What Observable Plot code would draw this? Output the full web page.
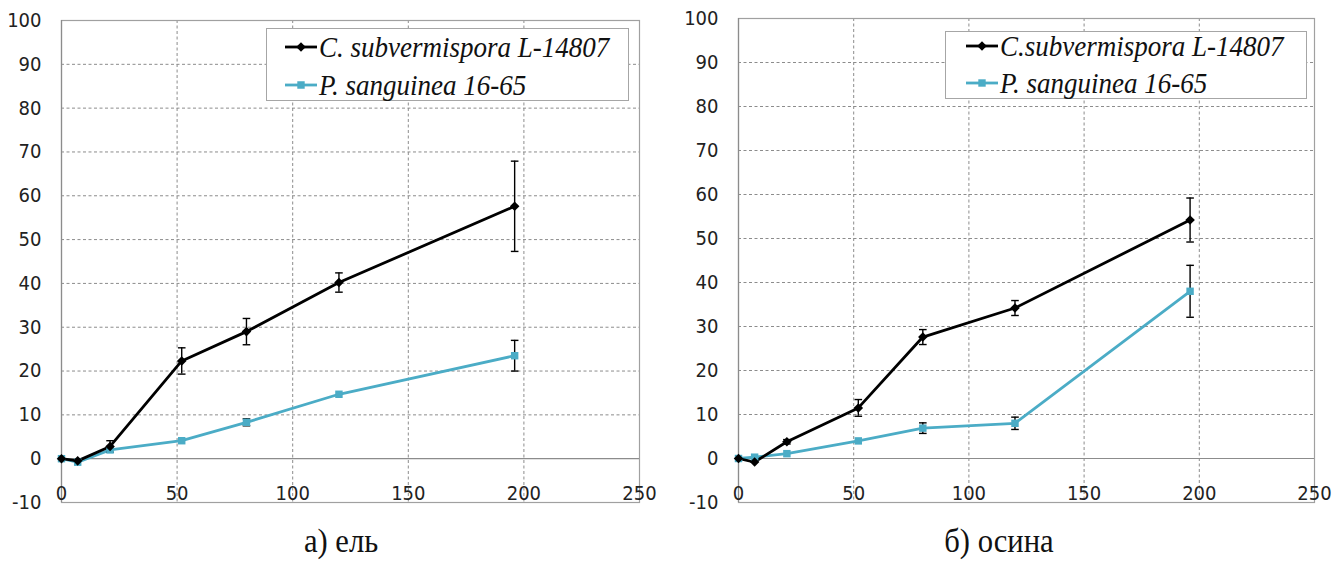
<!DOCTYPE html>
<html><head><meta charset="utf-8">
<script src="https://cdn.jsdelivr.net/npm/d3@7"></script>
<script src="https://cdn.jsdelivr.net/npm/@observablehq/plot@0.6"></script>
<style>
body{margin:0;background:#fff;}
#wrap{position:relative;width:1344px;height:567px;overflow:hidden;background:#fff;}
.panel{position:absolute;top:0;}
.legend{position:absolute;background:#fff;border:1.5px solid #a6a6a6;box-sizing:border-box;}
.row{position:absolute;left:0;display:flex;align-items:center;height:36px;}
.row svg{flex:none;}
.row span{font-style:italic;font-size:30px;color:#111;white-space:nowrap;display:inline-block;transform:scaleX(0.9);transform-origin:left center;}
.cap{position:absolute;top:522px;font-size:34px;color:#111;white-space:nowrap;transform:translateX(-50%) scaleX(0.9);}
</style></head>
<body><div id="wrap"></div>
<script>
const days = [0, 7, 21, 52, 80, 120, 196];
const spruceC = [0, -0.5, 2.8, 22.3, 29.0, 40.2, 57.6];
const spruceCErr = [0, 0, 1.3, 3.0, 3.0, 2.2, 10.3];
const spruceP = [0, -0.8, 2.0, 4.1, 8.3, 14.7, 23.5];
const sprucePErr = [0, 0, 0, 0, 0.8, 0, 3.5];
const aspenC = [0, -0.8, 3.8, 11.5, 27.6, 34.2, 54.2];
const aspenCErr = [0, 0, 0.5, 1.9, 1.7, 1.7, 5.0];
const aspenP = [0, 0.3, 1.1, 4.0, 6.9, 8.0, 38.0];
const aspenPErr = [0, 0, 0, 0, 1.2, 1.4, 5.9];
const xTicks = [0, 50, 100, 150, 200, 250];
const yTicks = [-10, 0, 10, 20, 30, 40, 50, 60, 70, 80, 90, 100];
const seriesNames = ["C. subvermispora L-14807", "P. sanguinea 16-65"];
const seriesNamesB = ["C.subvermispora L-14807", "P. sanguinea 16-65"];
const panelCaptions = ["а) ель", "б) осина"];
const colors = ["#000000", "#4bacc6"];

// pick an installed serif face
function hasFont(name){
  const cv=document.createElement("canvas").getContext("2d");
  const s="абвгдеж Ctfjilmw 0123456789";
  return ["monospace","sans-serif","serif"].some(g=>{
    cv.font="40px "+g; const w0=cv.measureText(s).width;
    cv.font="40px '"+name+"', "+g; return Math.abs(cv.measureText(s).width-w0)>0.5;
  });
}
const serifCandidates=["Liberation Serif","Times New Roman","Tinos","DejaVu Serif","Noto Serif","FreeSerif","Nimbus Roman","Nimbus Roman No9 L","Times"];
const serifFace = serifCandidates.find(hasFont);
const serifStack = (serifFace?"'"+serifFace+"', ":"")+"serif";

const capSymbol = {draw(ctx, size){ const r = Math.sqrt(size/Math.PI); ctx.moveTo(-r,0); ctx.lineTo(r,0); }};
const tickFont = "'Liberation Sans Narrow','DejaVu Sans Condensed','Open Sans',sans-serif";

function rows(vals, errs){ return days.map((d,i)=>({x:d, y:vals[i], e:errs[i]})); }

function panel(c, cErr, p, pErr, mL, mR, mT){
  const cr = rows(c, cErr), pr = rows(p, pErr);
  const errs = cr.concat(pr).filter(d=>d.e>0);
  const grid = {stroke:"#8c8c8c", strokeDasharray:"3,2.5", strokeWidth:1};
  return Plot.plot({
    width:672, height:520, marginLeft:mL, marginRight:mR, marginTop:mT, marginBottom:18,
    x:{domain:[0,250], axis:null},
    y:{domain:[-10,100], axis:null},
    style:{fontFamily:tickFont, fontSize:"20px", color:"#222", background:"transparent"},
    marks:[
      Plot.ruleY(yTicks.filter(v=>v>0 && v<100), grid),
      Plot.ruleX(xTicks.filter(v=>v>0 && v<250), grid),
      Plot.frame({stroke:"#a0a0a0", strokeWidth:1.2}),
      Plot.ruleY([0], {stroke:"#8c8c8c", strokeWidth:1.2}),
      Plot.ruleX([0], {stroke:"#8c8c8c", strokeWidth:1.2}),
      Plot.axisY({ticks:yTicks, tickSize:0, tickPadding:20, tickFormat:d=>String(d), label:null, fontSize:20, fill:"#222"}),
      Plot.text(xTicks, {x:d=>d, y:-10, dy:-9, text:d=>String(d), fontSize:20, fill:"#222"}),
      Plot.line(pr, {x:"x", y:"y", stroke:colors[1], strokeWidth:2.8}),
      Plot.line(cr, {x:"x", y:"y", stroke:colors[0], strokeWidth:2.8}),
      Plot.ruleX(errs, {x:"x", y1:d=>d.y-d.e, y2:d=>d.y+d.e, stroke:"#000", strokeWidth:1.4}),
      Plot.dot(errs, {x:"x", y:d=>d.y-d.e, symbol:capSymbol, r:3.8, stroke:"#000", strokeWidth:1.4, fill:"none"}),
      Plot.dot(errs, {x:"x", y:d=>d.y+d.e, symbol:capSymbol, r:3.8, stroke:"#000", strokeWidth:1.4, fill:"none"}),
      Plot.dot(pr, {x:"x", y:"y", symbol:"square", r:4.2, fill:colors[1], stroke:"none"}),
      Plot.dot(cr, {x:"x", y:"y", symbol:"diamond2", r:4.3, fill:colors[0], stroke:"none"})
    ]
  });
}

const wrap = document.getElementById("wrap");
function addPanel(svg, left){
  const d = document.createElement("div"); d.className="panel"; d.style.left=left+"px"; d.appendChild(svg); wrap.appendChild(d);
}
addPanel(panel(spruceC, spruceCErr, spruceP, sprucePErr, 61, 33, 20), 0);
addPanel(panel(aspenC, aspenCErr, aspenP, aspenPErr, 66, 30, 18), 672);

function swatch(color, square){
  const ns="http://www.w3.org/2000/svg";
  const s=document.createElementNS(ns,"svg"); s.setAttribute("width","36"); s.setAttribute("height","14");
  const l=document.createElementNS(ns,"line"); l.setAttribute("x1","2"); l.setAttribute("x2","34"); l.setAttribute("y1","7"); l.setAttribute("y2","7"); l.setAttribute("stroke",color); l.setAttribute("stroke-width","2.8"); s.appendChild(l);
  const m=document.createElementNS(ns,"path");
  m.setAttribute("d", square ? "M14.3,3.3h7.4v7.4h-7.4z" : "M18,2.2L22.8,7L18,11.8L13.2,7z");
  m.setAttribute("fill",color); s.appendChild(m);
  return s;
}
function addLegend(left, top, w, h, names, rowTops, swLeft){
  const lg=document.createElement("div"); lg.className="legend";
  lg.style.left=left+"px"; lg.style.top=top+"px"; lg.style.width=w+"px"; lg.style.height=h+"px";
  names.forEach((n,i)=>{
    const r=document.createElement("div"); r.className="row"; r.style.top=rowTops[i]+"px"; r.style.left=swLeft+"px";
    r.appendChild(swatch(colors[i], i===1));
    const sp=document.createElement("span"); sp.textContent=n; sp.style.fontFamily=serifStack; r.appendChild(sp);
    lg.appendChild(r);
  });
  wrap.appendChild(lg);
}
addLegend(266, 28, 363, 73, seriesNames, [0, 38], 16);
addLegend(945, 31, 362, 68, seriesNamesB, [-4, 33], 18);

panelCaptions.forEach((t,i)=>{
  const c=document.createElement("div"); c.className="cap"; c.textContent=t; c.style.fontFamily=serifStack;
  c.style.left=(i===0?341:999)+"px"; wrap.appendChild(c);
});
</script></body></html>
